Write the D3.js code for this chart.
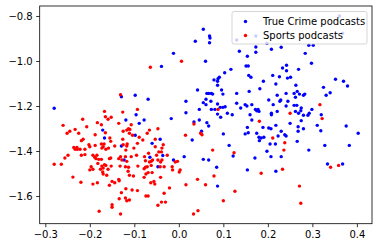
<!DOCTYPE html>
<html><head><meta charset="utf-8">
<script src="https://cdn.jsdelivr.net/npm/d3@7"></script>
<style>body{margin:0;background:#fff}svg{display:block}text{font-family:"DejaVu Sans",sans-serif}</style>
</head><body><svg id="c" width="380" height="248"></svg>
<script>
const seriesNames = ["True Crime podcasts", "Sports podcasts"];
const seriesColors = ["blue", "red"];
const xTicks = [-0.3, -0.2, -0.1, 0.0, 0.1, 0.2, 0.3, 0.4];
const yTicks = [-0.8, -1.0, -1.2, -1.4, -1.6];
const xDomain = [-0.3126, 0.434];
const yDomain = [-1.723, -0.7556];

const trueCrime = [
[0.055,-0.859],[0.037,-0.912],[-0.012,-0.966],[0.060,-1.001],[-0.039,-1.024],[0.069,-0.889],[0.070,-0.898],[0.069,-0.919],
[0.130,-0.907],[0.173,-0.889],[0.198,-0.921],[0.136,-0.957],[0.173,-0.938],[0.173,-0.961],[0.208,-0.948],[0.230,-0.939],
[0.154,-0.979],[0.151,-1.022],[0.156,-1.022],[0.117,-1.037],[0.103,-1.052],[0.157,-1.064],[0.162,-1.072],[0.242,-1.019],
[0.233,-1.031],[0.242,-1.043],[0.211,-1.064],[0.226,-1.070],[0.091,-1.072],[0.361,-0.800],[0.368,-0.877],[0.292,-0.930],
[0.302,-0.930],[0.284,-0.966],[0.298,-1.010],[0.269,-1.037],[0.251,-1.072],
[-0.280,-1.210],[-0.129,-1.159],[-0.171,-1.307],[-0.167,-1.342],[-0.129,-1.378],
[-0.098,-1.152],[-0.069,-1.170],[0.042,-1.129],[0.063,-1.144],[0.016,-1.179],[0.055,-1.185],[0.061,-1.194],[0.046,-1.215],
[0.016,-1.230],[-0.096,-1.239],[-0.119,-1.262],[-0.078,-1.262],[-0.089,-1.277],[-0.017,-1.256],[0.034,-1.271],[0.046,-1.262],
[0.063,-1.274],[-0.098,-1.330],[0.051,-1.312],[0.030,-1.351],[-0.042,-1.348],[-0.060,-1.366],
[0.079,-1.084],[0.088,-1.079],[0.087,-1.090],[0.087,-1.108],[0.190,-1.090],[0.244,-1.076],[0.218,-1.102],[0.096,-1.129],
[0.067,-1.144],[0.073,-1.144],[0.076,-1.147],[0.099,-1.147],[0.130,-1.144],[0.158,-1.135],[0.182,-1.123],[0.221,-1.152],
[0.241,-1.144],[0.061,-1.170],[0.072,-1.179],[0.202,-1.173],[0.229,-1.173],[0.227,-1.179],[0.245,-1.179],[0.087,-1.191],
[0.130,-1.188],[0.149,-1.194],[0.153,-1.200],[0.164,-1.194],[0.212,-1.194],[0.241,-1.200],[0.073,-1.215],[0.081,-1.215],
[0.093,-1.206],[0.099,-1.206],[0.104,-1.203],[0.139,-1.209],[0.172,-1.215],[0.178,-1.215],[0.175,-1.221],[0.180,-1.224],
[0.221,-1.224],[0.087,-1.236],[0.109,-1.232],[0.120,-1.239],[0.160,-1.239],[0.208,-1.232],[0.208,-1.239],[0.094,-1.250],
[0.164,-1.262],[0.250,-1.277],[0.067,-1.289],[0.154,-1.295],[0.189,-1.295],[0.202,-1.298],[0.207,-1.301],[0.218,-1.286],
[0.100,-1.324],[0.149,-1.324],[0.156,-1.319],[0.175,-1.321],[0.180,-1.339],[0.185,-1.342],[0.191,-1.339],[0.181,-1.354],
[0.230,-1.312],[0.238,-1.328],[0.241,-1.333],[0.223,-1.333],[0.205,-1.369],[0.217,-1.369],[0.113,-1.375],[0.198,-1.401],
[0.352,-1.081],[0.370,-1.090],[0.379,-1.111],[0.263,-1.108],[0.325,-1.117],[0.266,-1.135],[0.259,-1.144],[0.271,-1.147],
[0.280,-1.152],[0.283,-1.147],[0.340,-1.141],[0.331,-1.152],[0.262,-1.161],[0.259,-1.197],[0.265,-1.197],[0.275,-1.209],
[0.274,-1.221],[0.269,-1.232],[0.262,-1.224],[0.299,-1.215],[0.293,-1.232],[0.290,-1.241],[0.280,-1.241],[0.320,-1.239],
[0.275,-1.265],[0.311,-1.286],[0.268,-1.292],[0.280,-1.301],[0.268,-1.312],[0.376,-1.289],[0.319,-1.310],[0.403,-1.321],
[0.266,-1.357],[0.328,-1.375],[0.383,-1.375],[0.292,-1.396],
[-0.123,-1.440],[-0.065,-1.428],[-0.036,-1.420],[-0.012,-1.440],[0.012,-1.425],[0.055,-1.437],[-0.047,-1.470],[0.067,-1.440],
[0.122,-1.422],[0.171,-1.431],[0.207,-1.425],[0.230,-1.425],[0.085,-1.472],[0.154,-1.484],[0.218,-1.490],[0.087,-1.556],
[0.334,-1.458],[0.368,-1.458]
];

const sports = [
[0.006,-1.001],[-0.064,-1.028],
[-0.131,-1.150],[-0.167,-1.224],[-0.126,-1.227],[-0.165,-1.248],[-0.159,-1.259],[-0.152,-1.250],[-0.216,-1.259],[-0.183,-1.274],
[-0.174,-1.283],[-0.135,-1.277],[-0.260,-1.286],[-0.207,-1.292],[-0.233,-1.304],[-0.245,-1.312],[-0.251,-1.321],[-0.165,-1.319],
[-0.125,-1.312],[-0.225,-1.321],[-0.188,-1.328],[-0.155,-1.342],[-0.153,-1.357],[-0.215,-1.348],[-0.219,-1.354],[-0.126,-1.348],
[-0.202,-1.372],[-0.200,-1.381],[-0.174,-1.369],[-0.168,-1.369],[-0.170,-1.381],[-0.173,-1.387],[-0.188,-1.375],[-0.144,-1.378],
[-0.236,-1.384],[-0.229,-1.384],[-0.233,-1.392],[-0.228,-1.392],[-0.222,-1.392],[-0.211,-1.392],[-0.164,-1.392],[-0.158,-1.387],
[-0.093,-1.215],[0.034,-1.280],[-0.107,-1.283],[-0.117,-1.307],[-0.113,-1.301],[-0.110,-1.304],[-0.066,-1.307],[-0.047,-1.301],
[-0.071,-1.321],[-0.111,-1.321],[-0.104,-1.330],[-0.089,-1.339],[-0.081,-1.351],[0.049,-1.321],[0.052,-1.328],[0.015,-1.330],
[-0.053,-1.348],[-0.053,-1.381],[-0.035,-1.372],[-0.038,-1.387],[-0.093,-1.366],[-0.116,-1.369],[-0.117,-1.378],[-0.125,-1.372],
[-0.101,-1.387],[-0.119,-1.396],[-0.068,-1.410],[-0.045,-1.404],[-0.039,-1.404],
[0.088,-1.215],[0.250,-1.232],[0.181,-1.268],[0.211,-1.342],[0.238,-1.363],[0.076,-1.396],[0.124,-1.408],[0.236,-1.396],
[0.317,-1.194],[0.322,-1.256],
[-0.280,-1.459],[-0.264,-1.459],[-0.256,-1.431],[-0.249,-1.419],[-0.219,-1.419],[-0.211,-1.416],[-0.238,-1.516],[-0.220,-1.539],
[-0.193,-1.419],[-0.189,-1.428],[-0.184,-1.419],[-0.186,-1.434],[-0.180,-1.437],[-0.174,-1.437],[-0.182,-1.455],[-0.197,-1.470],
[-0.193,-1.481],[-0.200,-1.484],[-0.176,-1.481],[-0.170,-1.476],[-0.171,-1.493],[-0.170,-1.502],[-0.162,-1.508],[-0.164,-1.464],
[-0.167,-1.461],[-0.173,-1.467],[-0.156,-1.434],[-0.153,-1.431],[-0.159,-1.481],[-0.152,-1.467],[-0.193,-1.547],[-0.183,-1.541],
[-0.150,-1.535],[-0.144,-1.541],[-0.156,-1.552],[-0.135,-1.434],[-0.131,-1.425],[-0.132,-1.467],[-0.135,-1.526],[-0.134,-1.532],
[-0.129,-1.585],[-0.134,-1.612],[-0.150,-1.639],[-0.150,-1.650],[-0.131,-1.680],[-0.179,-1.668],
[-0.120,-1.425],[-0.107,-1.425],[-0.095,-1.419],[-0.077,-1.425],[-0.050,-1.419],[-0.047,-1.440],[-0.026,-1.419],[-0.128,-1.440],
[-0.117,-1.446],[-0.075,-1.443],[-0.066,-1.449],[-0.062,-1.446],[-0.059,-1.440],[-0.038,-1.440],[-0.041,-1.449],[-0.008,-1.449],
[-0.003,-1.446],[-0.120,-1.470],[-0.113,-1.472],[-0.092,-1.467],[-0.078,-1.479],[-0.075,-1.472],[-0.071,-1.470],[-0.062,-1.464],
[-0.042,-1.470],[-0.033,-1.470],[-0.015,-1.470],[-0.014,-1.484],[0.003,-1.484],[0.001,-1.493],[-0.114,-1.490],[-0.111,-1.508],
[-0.102,-1.511],[-0.074,-1.502],[-0.069,-1.496],[-0.078,-1.517],[-0.060,-1.496],[-0.041,-1.517],[-0.063,-1.541],[-0.056,-1.535],
[-0.054,-1.547],[0.016,-1.550],[0.042,-1.526],[0.060,-1.550],[-0.119,-1.568],[-0.105,-1.573],[-0.093,-1.576],[-0.021,-1.564],
[-0.033,-1.588],[-0.074,-1.600],[-0.069,-1.600],[-0.120,-1.609],[-0.117,-1.621],[-0.111,-1.618],[-0.039,-1.627],[-0.030,-1.627],
[-0.047,-1.641],[0.043,-1.665],[0.033,-1.680],
[0.185,-1.499],[0.233,-1.481],[0.079,-1.511],[0.126,-1.579],[0.100,-1.621],
[0.341,-1.472],[0.359,-1.464],[0.271,-1.556],[0.274,-1.632]
];

const svg = d3.select("#c");
const L = 39.7, R = 372, T = 6, B = 223.7;
const x = d3.scaleLinear().domain(xDomain).range([L, R]);
const y = d3.scaleLinear().domain(yDomain).range([B, T]);
const fmt = d => d3.format(".1f")(d).replace("-", "\u2212");

const series = [trueCrime, sports];
series.forEach((data, i) => {
  svg.append("g").selectAll("circle").data(data).join("circle")
    .attr("cx", d => x(d[0])).attr("cy", d => y(d[1])).attr("r", 1.7)
    .attr("fill", seriesColors[i]);
});

const xAxis = svg.append("g").attr("transform", `translate(0,${B})`)
  .call(d3.axisBottom(x).tickValues(xTicks).tickFormat(fmt).tickSize(3.5).tickPadding(3.5));
const yAxis = svg.append("g").attr("transform", `translate(${L},0)`)
  .call(d3.axisLeft(y).tickValues(yTicks).tickFormat(fmt).tickSize(3.5).tickPadding(3.5));
[xAxis, yAxis].forEach(a => {
  a.select(".domain").remove();
  a.selectAll("line").attr("stroke", "#000").attr("stroke-width", 0.8);
  a.selectAll("text").attr("font-size", 10).attr("fill", "#000").attr("font-family", "DejaVu Sans");
});

svg.append("rect").attr("x", L).attr("y", T).attr("width", R - L).attr("height", B - T)
  .attr("fill", "none").attr("stroke", "#000").attr("stroke-width", 0.8);

// legend
const lg = svg.append("g");
const lx0 = 232, ly0 = 11.5, lw = 135, lh = 32.5;
lg.append("rect").attr("x", lx0).attr("y", ly0).attr("width", lw).attr("height", lh)
  .attr("rx", 2).attr("fill", "#fff").attr("fill-opacity", 0.8).attr("stroke", "#ccc").attr("stroke-width", 0.8);
seriesNames.forEach((name, i) => {
  const cy = ly0 + 10 + i * 14;
  lg.append("circle").attr("cx", lx0 + 13.5).attr("cy", cy).attr("r", 1.7).attr("fill", seriesColors[i]);
  lg.append("text").attr("x", lx0 + 31).attr("y", cy).attr("dy", "0.35em")
    .attr("font-size", 10).attr("fill", "#000").text(name);
});
</script></body></html>
